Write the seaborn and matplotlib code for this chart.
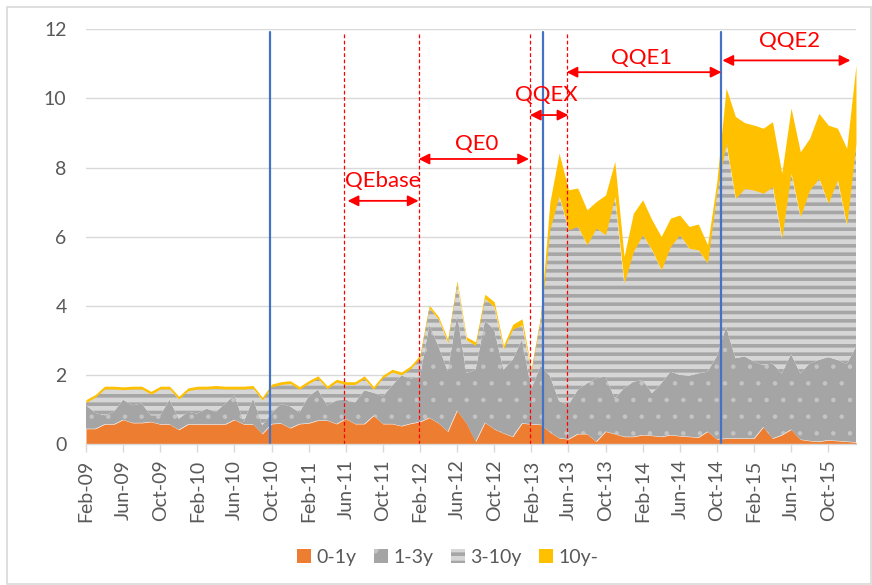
import numpy as np
import pandas as pd
import matplotlib
matplotlib.use('Agg')
import matplotlib.pyplot as plt
import seaborn as sns
from matplotlib.patches import Rectangle

# %%
# data, monthly Feb-09 .. Jan-16
months = pd.date_range('2009-02-01', periods=84, freq='MS')
month_labels = [d.strftime('%b-%y') for d in months]

y0_1 = [0.45, 0.45, 0.58, 0.58, 0.71, 0.62, 0.62, 0.65, 0.58, 0.58,
        0.42, 0.58, 0.58, 0.58, 0.58, 0.58, 0.71, 0.58, 0.58, 0.30,
        0.59, 0.61, 0.47, 0.59, 0.61, 0.69, 0.69, 0.59, 0.74, 0.59,
        0.59, 0.83, 0.59, 0.59, 0.53, 0.60, 0.65, 0.77, 0.61, 0.37,
        0.98, 0.61, 0.08, 0.63, 0.44, 0.32, 0.22, 0.61, 0.58, 0.57,
        0.35, 0.18, 0.15, 0.30, 0.30, 0.08, 0.37, 0.30, 0.22, 0.22,
        0.27, 0.25, 0.22, 0.27, 0.24, 0.22, 0.20, 0.37, 0.15, 0.17,
        0.17, 0.17, 0.17, 0.50, 0.17, 0.27, 0.43, 0.14, 0.10, 0.08,
        0.12, 0.10, 0.08, 0.06]
y1_3 = [0.68, 0.46, 0.26, 0.36, 0.58, 0.51, 0.56, 0.19, 0.26, 0.71,
        0.32, 0.36, 0.31, 0.45, 0.36, 0.60, 0.71, 0.07, 0.74, 0.25,
        0.31, 0.56, 0.63, 0.33, 0.78, 0.89, 0.43, 0.68, 0.55, 0.62,
        0.97, 0.66, 0.80, 1.11, 1.46, 1.30, 1.30, 2.67, 2.23, 1.74,
        2.78, 1.45, 2.08, 2.94, 2.88, 1.84, 2.23, 2.42, 1.02, 1.70,
        1.63, 1.07, 0.99, 1.27, 1.46, 1.83, 1.59, 1.03, 1.40, 1.59,
        1.59, 1.23, 1.54, 1.83, 1.77, 1.76, 1.85, 1.73, 2.40, 3.23,
        2.32, 2.37, 2.22, 1.79, 2.17, 1.78, 2.18, 1.91, 2.24, 2.36,
        2.40, 2.34, 2.24, 2.76]
y3_10 = [0.08, 0.45, 0.76, 0.66, 0.29, 0.47, 0.42, 0.61, 0.76, 0.31,
         0.57, 0.61, 0.71, 0.57, 0.68, 0.42, 0.18, 0.95, 0.30, 0.73,
         0.76, 0.56, 0.66, 0.67, 0.37, 0.32, 0.49, 0.53, 0.44, 0.52,
         0.34, 0.10, 0.53, 0.39, 0.02, 0.29, 0.55, 0.50, 0.77, 0.83,
         0.87, 0.96, 0.70, 0.65, 0.65, 0.60, 0.88, 0.42, 0.50, 1.33,
         4.24, 5.93, 5.06, 4.73, 4.01, 4.34, 4.10, 5.83, 3.04, 3.76,
         4.20, 4.14, 3.28, 3.62, 4.05, 3.69, 3.57, 3.14, 4.75, 5.30,
         4.62, 4.86, 4.96, 4.97, 5.11, 3.91, 5.23, 4.53, 5.01, 5.25,
         4.45, 5.20, 4.02, 5.88]
y10 = [0.08, 0.08, 0.08, 0.08, 0.08, 0.08, 0.08, 0.08, 0.08, 0.08,
       0.08, 0.08, 0.08, 0.08, 0.08, 0.08, 0.08, 0.08, 0.08, 0.08,
       0.08, 0.08, 0.08, 0.08, 0.08, 0.08, 0.08, 0.08, 0.08, 0.08,
       0.08, 0.08, 0.08, 0.08, 0.08, 0.08, 0.08, 0.08, 0.08, 0.09,
       0.10, 0.09, 0.10, 0.12, 0.15, 0.10, 0.14, 0.18, 0.07, 0.10,
       0.78, 1.24, 1.16, 1.11, 1.01, 0.77, 1.15, 1.02, 0.77, 1.11,
       1.01, 0.87, 0.97, 0.82, 0.57, 0.63, 0.75, 0.53, 0.30, 1.60,
       2.37, 1.90, 1.88, 1.88, 1.88, 1.88, 1.88, 1.88, 1.50, 1.88,
       2.26, 1.50, 2.22, 2.27]

series_names = ['0-1y', '1-3y', '3-10y', '10y-']

# event lines (month index)
blue_lines = [19.85, 49.3, 68.4]
red_lines = [27.85, 35.85, 47.85, 51.85]

# period arrows: label, start, end, arrow y, text x, text y
periods = ['QEbase', 'QE0', 'QQEX', 'QQE1', 'QQE2']
p_start = [28.2, 35.85, 47.85, 51.8, 68.6]
p_end = [35.85, 47.75, 52.0, 68.5, 82.4]
p_arrow_y = [7.04, 8.25, 9.52, 10.76, 11.1]
p_text_x = [31.95, 42.1, 49.65, 59.9, 75.8]
p_text_y = [7.45, 8.51, 9.94, 11.0, 11.48]

# %%
df = pd.DataFrame({'0-1y': y0_1, '1-3y': y1_3, '3-10y': y3_10, '10y-': y10},
                  index=months)
x = np.arange(len(df))
cum = df.cumsum(axis=1)

sns.set_theme(style='white')
plt.rcParams['font.family'] = ['Lato', 'DejaVu Sans']
plt.rcParams['hatch.linewidth'] = 2.6

fig = plt.figure(figsize=(8.72, 5.85), dpi=100)
ax = fig.add_axes([86 / 872, 1 - 444.3 / 585, (856 - 86) / 872, (444.3 - 29.3) / 585])

# outer chart border
fig.patches.append(Rectangle((7 / 872, 1 / 585), 864 / 872, 577 / 585, transform=fig.transFigure,
                             fill=False, edgecolor='#d9d9d9', linewidth=1.2))

styles = {
    '0-1y': dict(facecolor='#ed7d31'),
    '1-3y': dict(facecolor='#a5a5a5', edgecolor='#c4c4c4', hatch='.'),
    '3-10y': dict(facecolor='#d6d6d6', edgecolor='#a6a6a6', hatch='--'),
    '10y-': dict(facecolor='#ffc000'),
}
lower = np.zeros(len(df))
for name in series_names:
    upper = cum[name].values
    pc = ax.fill_between(x, lower, upper, linewidth=0, label=name, **styles[name])
    if name == '1-3y' and hasattr(pc, 'set_hatch_linewidth'):
        pc.set_hatch_linewidth(0.8)
    lower = upper

for v in blue_lines:
    ax.plot([v, v], [0, 11.92], color='#4472c4', lw=1.6, zorder=4)
for v in red_lines:
    ax.plot([v, v], [0, 11.92], color='#ff0000', lw=0.9, ls=(0, (3, 2)), zorder=4)

for i, lab in enumerate(periods):
    ax.annotate('', xy=(p_end[i], p_arrow_y[i]), xytext=(p_start[i], p_arrow_y[i]),
                arrowprops=dict(arrowstyle='<|-|>', color='#ff0000', lw=1.3,
                                mutation_scale=16, shrinkA=0, shrinkB=0), zorder=5)
    ax.text(p_text_x[i], p_text_y[i], lab, color='#ff0000', fontsize=16,
            ha='center', va='baseline', zorder=5)

ax.set_xlim(0, len(df) - 1)
ax.set_ylim(0, 12)
ax.set_yticks(range(0, 13, 2))
ax.yaxis.grid(True, color='#d9d9d9', lw=1)
ax.set_axisbelow(True)
ticks = list(range(0, len(df), 4))
ax.set_xticks(ticks)
ax.set_xticklabels([month_labels[t] for t in ticks], rotation=90)
ax.tick_params(axis='x', length=6, width=1, color='#d9d9d9', pad=5,
               labelsize=14, labelcolor='#595959', bottom=True)
ax.tick_params(axis='y', length=0, pad=14, labelsize=14, labelcolor='#595959')
for s in ['top', 'right', 'left']:
    ax.spines[s].set_visible(False)
ax.spines['bottom'].set_color('#d9d9d9')
ax.spines['bottom'].set_linewidth(1)
ax.spines['bottom'].set_zorder(6)

leg = fig.legend(loc='center', bbox_to_anchor=(448 / 872, 1 - 557 / 585), ncol=4,
                 frameon=False, fontsize=14, handlelength=0.7, handleheight=0.7,
                 handletextpad=0.3, columnspacing=0.9, labelcolor='#595959')

fig.savefig('out.png', dpi=100)
